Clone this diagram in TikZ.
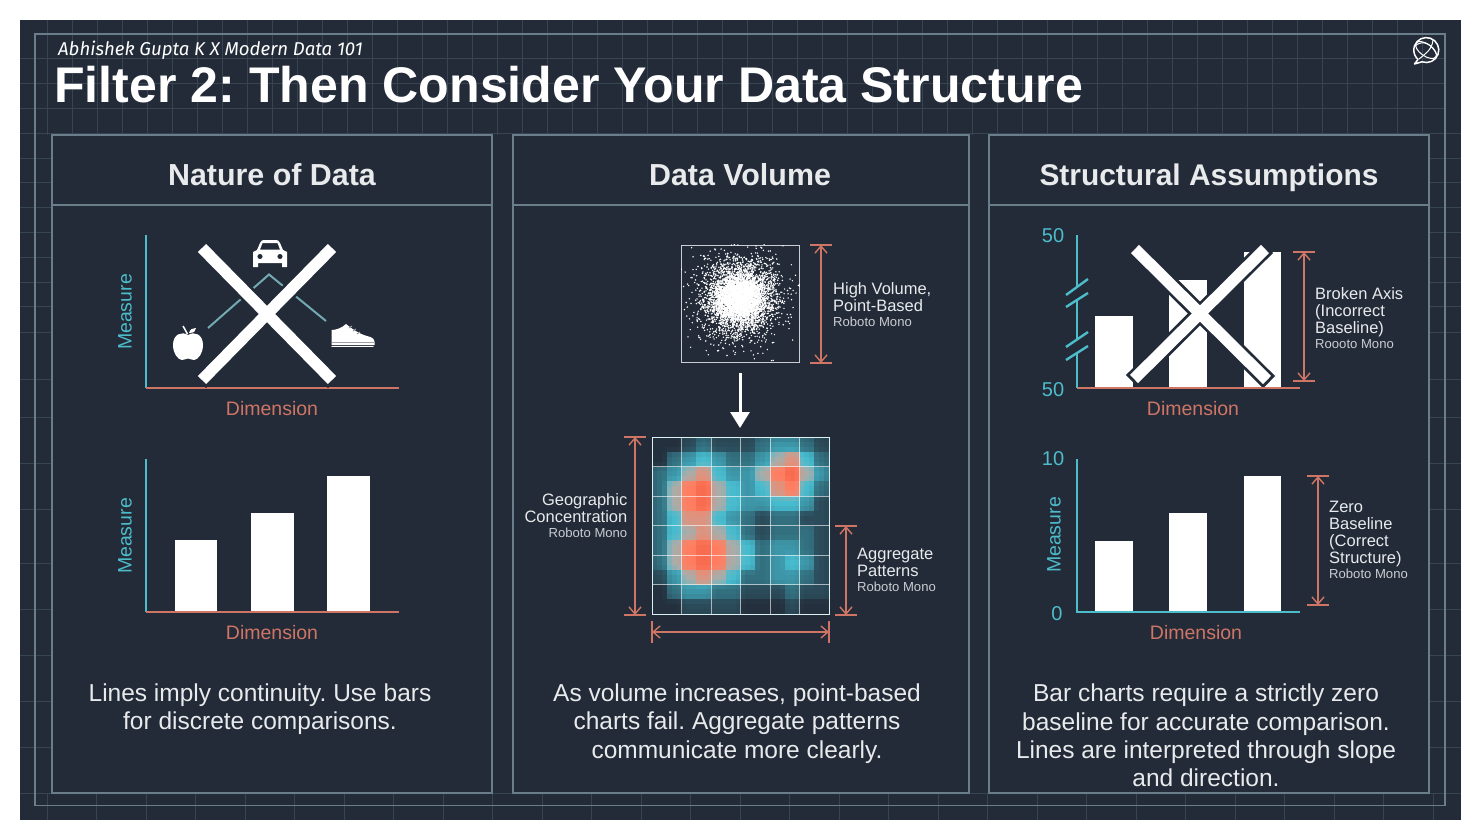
\documentclass[tikz,border=0pt]{standalone}
\usepackage{fontspec}
\setmainfont{Liberation Sans}
\newfontfamily\handfont{Fira Sans}
\usetikzlibrary{arrows.meta,calc}
\definecolor{bgdark}{HTML}{232B38}
\definecolor{gridc}{HTML}{374452}
\definecolor{framec}{HTML}{6A7D8A}
\definecolor{tealc}{HTML}{4DBCCB}
\definecolor{salmon}{HTML}{CF7565}
\definecolor{txtc}{HTML}{E8EAEC}
\definecolor{lvl0}{HTML}{24303D}
\definecolor{lvl1}{HTML}{2B4A5A}
\definecolor{lvl2}{HTML}{33707F}
\definecolor{lvl3}{HTML}{3D96A8}
\definecolor{lvl4}{HTML}{48BCCF}
\definecolor{lvl5}{HTML}{A9ACA9}
\definecolor{lvl6}{HTML}{DC9480}
\definecolor{lvl7}{HTML}{FF7E62}
\definecolor{lvl8}{HTML}{F76B4F}
\tikzset{
  x=1pt,y=-1pt,
  panelbox/.style={draw=framec,line width=1.2pt,fill=bgdark},
  headtxt/.style={font=\fontsize{30.4}{34}\selectfont\bfseries,text=txtc,inner sep=0,anchor=base},
  bodytxt/.style={font=\fontsize{24.5}{28.2}\selectfont,text=txtc,align=center,inner sep=0},
  dimtxt/.style={font=\fontsize{19.5}{22}\selectfont,text=salmon,inner sep=0},
  meastxt/.style={font=\fontsize{19.5}{22}\selectfont,text=tealc,inner sep=0,rotate=90},
  numtxt/.style={font=\fontsize{20}{22}\selectfont,text=tealc,inner sep=0},
  axisT/.style={draw=tealc,line width=2.9pt},
  axisS/.style={draw=salmon,line width=2.9pt},
  dimline/.style={draw=salmon,line width=1.4pt,{Straight Barb[length=7pt,width=12pt]}-{Straight Barb[length=7pt,width=12pt]}},
  tickline/.style={draw=salmon,line width=1.4pt},
  crossbar/.style={draw=white,line width=11.5pt},
  crosshalo/.style={draw=bgdark,line width=17pt,shorten <=-3pt,shorten >=-3pt},
  annot/.style={font=\fontsize{16.5}{17}\selectfont,text=txtc,inner sep=0},
  barw/.style={fill=white,draw=none},
  connect/.style={draw=tealc!55!gray!90!white,line width=2pt},
  gridl/.style={draw=gridc,line width=.8pt},
  heatl/.style={draw=white,opacity=.6,line width=.9pt},
}
\newcommand{\smalltag}[1]{{\fontsize{13.1}{14}\selectfont\color{txtc!85!bgdark}#1}}
\newcommand{\heatrow}[2]{\foreach \hv [count=\hc from 0] in {#2}{\expandafter\xdef\csname hv@#1@\hc\endcsname{\hv}}}
\newcommand{\hget}[2]{\csname hv@\the\numexpr#1\relax @\the\numexpr#2\relax\endcsname}
\begin{document}
\frenchspacing
\begin{tikzpicture}
\useasboundingbox (0,0) rectangle (1481,840);
\fill[white] (0,0) rectangle (1481,840);
\fill[bgdark] (20,20) rectangle (1461,820);
% background grid
\begin{scope}
\clip (20,20) rectangle (1461,820);
\foreach \gx in {47,72,...,1445} \draw[gridl] (\gx,20) -- (\gx,135);
\foreach \gx in {47,96.5,...,1445} \draw[gridl] (\gx,793) -- (\gx,820);
\foreach \gy in {58,83,108,133} \draw[gridl] (20,\gy) -- (1445,\gy);
\foreach \gy in {133,158,182,207,232,257,282,306,332,379,417,463,509,563,609,655,701,747} {\draw[gridl] (20,\gy) -- (52,\gy); \draw[gridl] (1429,\gy) -- (1461,\gy);}
\draw[gridl] (20,793) -- (1461,793);
\end{scope}
\draw[framec,line width=1.1pt] (35,34) rectangle (1445,805.5);
% panels
\draw[panelbox] (52,135) rectangle (492,793);
\draw[panelbox] (513,135) rectangle (969,793);
\draw[panelbox] (989,135) rectangle (1429,793);
\foreach \pa/\pb in {52/492,513/969,989/1429} \draw[framec,line width=1.1pt] (\pa,205) -- (\pb,205);
% titles
\node[anchor=base west,inner sep=0,text=white,font=\handfont\itshape\fontsize{18.6}{20}\selectfont] (credit) at (58,56) {Abhishek Gupta K X Modern Data 101};
\node[anchor=base west,inner sep=0,text=white,font=\fontsize{50.1}{52}\selectfont\bfseries] (title) at (54,102.6) {Filter 2: Then Consider Your Data Structure};
\node[headtxt] (h1) at (272,185.8) {Nature of Data};
\node[headtxt] (h2) at (740,185.8) {Data Volume};
\node[headtxt,font=\fontsize{29.9}{34}\selectfont\bfseries] (h3) at (1209,185.8) {Structural Assumptions};
% logo
\begin{scope}[shift={(1426,50)}]
\draw[white,line width=1.5pt,line join=round] (-8,9.5) -- (-11.5,14) -- (-4,11.8) arc[start angle=110,end angle=-215,radius=12.5] -- cycle;
\draw[white,line width=1pt,rotate=-35] (0,0) ellipse[x radius=12,y radius=6];
\draw[white,line width=1pt] (-11,-4) .. controls (-3,-11) and (6,-6) .. (11,5);
\draw[white,line width=1pt] (-7,9) .. controls (-1,4) and (6,0) .. (7,-10);
\end{scope}
%% PANEL 1 top
\coordinate (a1o) at (146,388);
\draw[axisT] (146,235) -- (a1o);
\draw[axisS] (a1o) -- (399,388);
\node[meastxt] (m1) at (125,312) {Measure};
\node[dimtxt] (d1) at (272,409) {Dimension};
\draw[connect] (208,328) -- (269,274.5) -- (326,321);
% car
\begin{scope}[shift={(270,253)}]
\fill[white,even odd rule] (-17,-1) -- (-13,-3) -- (-10,-10) .. controls (-9,-12.5) and (-7.5,-13) .. (-6,-13) -- (6,-13) .. controls (7.5,-13) and (9,-12.5) .. (10,-10) -- (13,-3) -- (17,-1) -- (17,14) -- (12,14) -- (12,10) -- (-12,10) -- (-12,14) -- (-17,14) -- cycle
 (-7.5,-10) -- (7.5,-10) -- (10,-3.5) -- (-10,-3.5) -- cycle
 (-10,3.5) circle (2.7) (10,3.5) circle (2.7);
\end{scope}
% apple
\begin{scope}[shift={(188,346)}]
\fill[white] (0,-11) .. controls (-6,-15) and (-15,-12) .. (-15,-1) .. controls (-15,7) and (-10,14) .. (-6,14) .. controls (-3,14) and (-2,12.5) .. (0,12.5) .. controls (2,12.5) and (3,14) .. (6,14) .. controls (10,14) and (15,7) .. (15,-1) .. controls (15,-12) and (6,-15) .. (0,-11) -- cycle;
\fill[white] (1,-13) .. controls (2,-17) and (5,-18) .. (8,-18) .. controls (8,-15) and (6,-13) .. (1,-13) -- cycle;
\draw[white,line width=1.5pt] (-0.5,-12) -- (-5,-20);
\end{scope}
% shoe
\begin{scope}[shift={(331,323)}]
\fill[white] (0.5,22) -- (0.5,7) .. controls (5,7) and (11,5) .. (15,1) .. controls (20,5) and (28,11) .. (36,13) .. controls (41,14) and (43.5,16) .. (43.5,19) -- (43.5,22) -- cycle;
\draw[white!55!bgdark,line width=1.3pt] (1,19.5) -- (43,19.5);
\draw[white,line width=1.4pt,line cap=round] (1,23.5) -- (42,23.5);
\draw[white!55!bgdark,line width=1pt] (18,5) -- (21,3) (22,8) -- (25,6) (26,11) -- (29,9);
\end{scope}
% X 1
\coordinate (x1a) at (202,248); \coordinate (x1b) at (332,380);
\coordinate (x1c) at (332,248); \coordinate (x1d) at (202,380);
\draw[crosshalo] (x1a) -- (x1b);
\draw[crosshalo] (x1c) -- (x1d);
\draw[crossbar] (x1a) -- (x1b);
\draw[crossbar] (x1c) -- (x1d);
%% PANEL 1 bottom
\coordinate (a2o) at (146,612);
\draw[axisT] (146,459) -- (a2o);
\draw[axisS] (a2o) -- (399,612);
\node[meastxt] (m2) at (125,536) {Measure};
\node[dimtxt] (d2) at (272,633) {Dimension};
\fill[barw] (175,540) rectangle (217,611);
\fill[barw] (251,513) rectangle (294,611);
\fill[barw] (327,476) rectangle (370,611);
\node[bodytxt] (b1) at (260,709) {Lines imply continuity. Use bars\\for discrete comparisons.};
%% PANEL 2 scatter
\node[draw=txtc!85!bgdark,line width=.9pt,minimum width=118pt,minimum height=117pt,inner sep=0] (sc) at (740.5,303.5) {};
\begin{scope}
\clip (sc.south west) rectangle (sc.north east);
\begin{scope}[shift={(740,298)}]
\pgfmathsetseed{4217}
\foreach \i in {1,...,3000} {
  \pgfmathsetmacro{\rr}{(rnd+rnd+rnd-1.5)*34}
  \pgfmathsetmacro{\ss}{(rnd+rnd+rnd-1.5)*34}
  \fill[white] (\rr,\ss) circle (0.8);
}
\foreach \i in {1,...,1500} {
  \pgfmathsetmacro{\rr}{(rnd+rnd+rnd-1.5)*20}
  \pgfmathsetmacro{\ss}{(rnd+rnd+rnd-1.5)*20}
  \fill[white] (\rr,\ss) circle (1);
}
\foreach \i in {1,...,700} {
  \pgfmathsetmacro{\rr}{(rnd+rnd+rnd-1.5)*50}
  \pgfmathsetmacro{\ss}{(rnd+rnd+rnd-1.5)*50}
  \fill[white] (\rr,\ss) circle (0.8);
}
\foreach \i in {1,...,90} {
  \pgfmathsetmacro{\rr}{(rnd+rnd-1)*58}
  \pgfmathsetmacro{\ss}{(rnd+rnd-1)*58}
  \fill[white] (\rr,\ss) circle (0.8);
}
\end{scope}
\end{scope}
\coordinate (sct) at (821,245); \coordinate (scb) at (821,363);
\draw[dimline] (sct) -- (scb);
\draw[tickline] ($(sct)+(-11,0)$) -- ($(sct)+(11,0)$);
\draw[tickline] ($(scb)+(-11,0)$) -- ($(scb)+(11,0)$);
\node[annot,anchor=north west,align=left] (t1) at (833,282.5) {High Volume,\\Point-Based\\[-2pt]\smalltag{Roboto Mono}};
% big arrow
\coordinate (ah) at (740,373); \coordinate (ai) at (740,428);
\draw[white,line width=3pt,-{Triangle[length=16pt,width=19pt]}] (ah) -- (ai);
% heatmap
\foreach \hr in {-1,...,12} \foreach \hq in {-1,...,12} {\expandafter\xdef\csname hv@\hr @\hq\endcsname{0}}
\heatrow{0}{0,0,1,2,1,1,1,2,3,3,2,1}
\heatrow{1}{0,2,3,4,3,2,2,3,5,6,4,2}
\heatrow{2}{2,3,5,6,4,3,3,5,7,8,5,3}
\heatrow{3}{2,5,7,8,5,4,3,4,6,7,4,2}
\heatrow{4}{2,5,7,8,5,4,3,3,4,4,3,1}
\heatrow{5}{2,4,6,6,4,3,2,1,2,2,1,1}
\heatrow{6}{2,4,5,6,5,4,2,1,2,2,2,1}
\heatrow{7}{2,5,7,8,7,5,4,2,3,3,2,1}
\heatrow{8}{2,5,7,8,7,5,4,2,3,4,3,1}
\heatrow{9}{1,3,5,6,5,4,2,2,3,3,2,1}
\heatrow{10}{0,2,3,3,2,2,1,1,1,2,1,1}
\heatrow{11}{0,0,1,1,1,1,0,0,0,1,0,0}
\begin{scope}[shift={(652,437)}]
\foreach \hr in {0,...,11} \foreach \hq in {0,...,11} \foreach \sy in {-1,0,1} \foreach \sx in {-1,0,1} {
  \pgfmathsetmacro{\wx}{abs(\sx)*0.12}
  \pgfmathsetmacro{\wy}{abs(\sy)*0.12}
  \pgfmathsetmacro{\hval}{(1-\wx)*(1-\wy)*\hget{\hr}{\hq}+\wx*(1-\wy)*\hget{\hr}{\hq+\sx}+(1-\wx)*\wy*\hget{\hr+\sy}{\hq}+\wx*\wy*\hget{\hr+\sy}{\hq+\sx}}
  \pgfmathtruncatemacro{\hlo}{min(\hval,7)}
  \pgfmathtruncatemacro{\hhi}{\hlo+1}
  \pgfmathsetmacro{\hfr}{(\hval-\hlo)*100}
  \pgfmathsetmacro{\cxa}{(\hq+(\sx+1)/3)*14.75}
  \pgfmathsetmacro{\cya}{(\hr+(\sy+1)/3)*14.75}
  \fill[lvl\hhi!\hfr!lvl\hlo] (\cxa,\cya) rectangle ++(5.2,5.2);
}
\fill[bgdark] (177,0) rectangle (178,177.5);
\fill[bgdark] (0,177) rectangle (178,178);
\foreach \k in {1,...,5} {
  \draw[heatl] (\k*29.5,0) -- (\k*29.5,177);
  \draw[heatl] (0,\k*29.5) -- (177,\k*29.5);
}
\node[draw=white!80!tealc,line width=1.1pt,minimum size=177pt,inner sep=0,anchor=north west] (hm) at (0,0) {};
\end{scope}
\coordinate (hl1) at (635,437); \coordinate (hl2) at (635,615);
\draw[dimline] (hl1) -- (hl2);
\draw[tickline] ($(hl1)+(-11,0)$) -- ($(hl1)+(11,0)$);
\draw[tickline] ($(hl2)+(-11,0)$) -- ($(hl2)+(11,0)$);
\coordinate (hr1) at (846,526); \coordinate (hr2) at (846,615);
\draw[dimline] (hr1) -- (hr2);
\draw[tickline] ($(hr1)+(-11,0)$) -- ($(hr1)+(11,0)$);
\draw[tickline] ($(hr2)+(-11,0)$) -- ($(hr2)+(11,0)$);
\coordinate (hb1) at (652,632); \coordinate (hb2) at (829,632);
\draw[dimline] (hb1) -- (hb2);
\draw[tickline] ($(hb1)+(0,-11)$) -- ($(hb1)+(0,11)$);
\draw[tickline] ($(hb2)+(0,-11)$) -- ($(hb2)+(0,11)$);
\node[annot,anchor=north east,align=right] (t2) at (627.5,493.5) {Geographic\\Concentration\\[-2pt]\smalltag{Roboto Mono}};
\node[annot,anchor=north west,align=left] (t3) at (857,548) {Aggregate\\Patterns\\[-2pt]\smalltag{Roboto Mono}};
\node[bodytxt] (b2) at (737,723.5) {As volume increases, point-based\\charts fail. Aggregate patterns\\communicate more clearly.};
%% PANEL 3 top
\coordinate (a3o) at (1077,388);
\fill[barw] (1095,316) rectangle (1133,387);
\fill[barw] (1169,280) rectangle (1207,387);
\fill[barw] (1244,252) rectangle (1281,387);
\coordinate (x3a) at (1135,249); \coordinate (x3b) at (1267,380);
\coordinate (x3c) at (1265,249); \coordinate (x3d) at (1134,379);
\draw[crosshalo] (x3a) -- (x3b);
\draw[crosshalo] (x3c) -- (x3d);
\draw[crossbar] (x3a) -- (x3b);
\draw[crossbar] (x3c) -- (x3d);
\draw[axisS] (a3o) -- (1300,388);
\draw[axisT] (1077,235) -- (1077,288) (1077,301) -- (1077,340) (1077,353) -- (a3o);
\draw[draw=tealc,line width=2.4pt] (1066,295) -- (1088,279) (1066,307) -- (1088,293) (1066,347) -- (1088,332) (1066,360) -- (1088,346);
\node[numtxt] (n1) at (1053,236) {50};
\node[numtxt] (n2) at (1053,390) {50};
\node[dimtxt] (d3) at (1193,409) {Dimension};
\coordinate (st) at (1304,252); \coordinate (sb) at (1304,381);
\draw[dimline] (st) -- (sb);
\draw[tickline] ($(st)+(-11,0)$) -- ($(st)+(11,0)$);
\draw[tickline] ($(sb)+(-11,0)$) -- ($(sb)+(11,0)$);
\node[annot,anchor=north west,align=left] (t4) at (1315,287.5) {Broken Axis\\(Incorrect\\Baseline)\\[-2pt]\smalltag{Roooto Mono}};
%% PANEL 3 bottom
\coordinate (a4o) at (1077,612);
\draw[axisT] (1077,459) -- (a4o) -- (1300,612);
\fill[barw] (1095,541) rectangle (1133,611);
\fill[barw] (1169,513) rectangle (1207,611);
\fill[barw] (1244,476) rectangle (1281,611);
\node[meastxt] (m4) at (1054,535) {Measure};
\node[numtxt] (n3) at (1053,459) {10};
\node[numtxt] (n4) at (1057,614) {0};
\node[dimtxt] (d4) at (1196,633) {Dimension};
\coordinate (zt) at (1318,476); \coordinate (zb) at (1318,605);
\draw[dimline] (zt) -- (zb);
\draw[tickline] ($(zt)+(-11,0)$) -- ($(zt)+(11,0)$);
\draw[tickline] ($(zb)+(-11,0)$) -- ($(zb)+(11,0)$);
\node[annot,anchor=north west,align=left] (t5) at (1329,500.5) {Zero\\Baseline\\(Correct\\Structure)\\[-2pt]\smalltag{Roboto Mono}};
\node[bodytxt] (b3) at (1206,735.5) {Bar charts require a strictly zero\\baseline for accurate comparison.\\Lines are interpreted through slope\\and direction.};
\end{tikzpicture}
\end{document}
